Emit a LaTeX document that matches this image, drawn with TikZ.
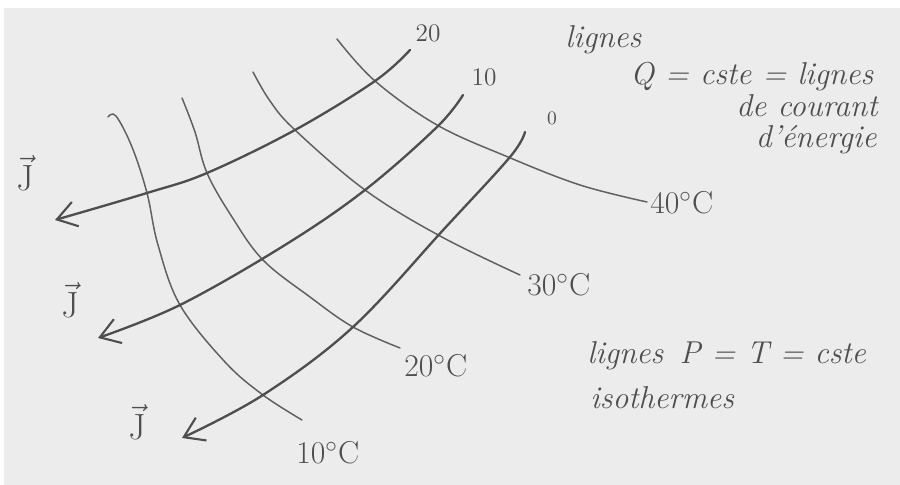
\documentclass[tikz,border=0pt]{standalone}
\usepackage{xcolor}
\usepackage{amsmath}
\usepackage{tikz}
\usetikzlibrary{arrows.meta,positioning}
\definecolor{pencil}{HTML}{4E4E4E}
\definecolor{paper}{HTML}{ECECEC}
\tikzset{
  flowline/.style={draw=pencil, line width=1.1pt, line cap=round, -{Straight Barb[length=3.2mm,width=4.2mm,line width=1pt]}},
  isotherm/.style={draw=pencil!90, line width=0.7pt, line cap=round},
  hand/.style={text=pencil, font=\fontsize{15}{18}\selectfont\itshape, inner sep=0pt},
  tag/.style={text=pencil, font=\fontsize{12}{14}\selectfont, inner sep=0pt},
  vecj/.style={text=pencil, font=\fontsize{18}{22}\selectfont, inner sep=0pt}
}

\begin{document}
\begin{tikzpicture}[x=0.0166667cm, y=-0.0166667cm]
  \useasboundingbox (0,0) rectangle (900,485);
  \fill[white] (0,0) rectangle (900,485);
  \fill[paper] (4,8) rectangle (900,485);

  \draw[isotherm] plot[smooth, tension=0.6] coordinates {(108,117) (116,116) (132,147) (147,193) (158,245) (180,305) (225,362) (263,395) (302,420)};
  \draw[isotherm] plot[smooth, tension=0.6] coordinates {(182,98) (195,132) (207,173) (232,217) (263,260) (310,297) (353,327) (400,348)};
  \draw[isotherm] plot[smooth, tension=0.6] coordinates {(253,72) (270,101) (295,130) (365,190) (440,236) (520,275)};
  \draw[isotherm] plot[smooth, tension=0.6] coordinates {(337,39) (375,81) (437,125) (508,157) (580,185) (647,202)};

  \draw[flowline] plot[smooth, tension=0.6] coordinates {(410,50) (375,81) (295,130) (207,173) (147,193) (55,220)};
  \draw[flowline] plot[smooth, tension=0.6] coordinates {(463,95) (437,127) (365,190) (285,245) (180,305) (98,338)};
  \draw[flowline] plot[smooth, tension=0.6] coordinates {(525,132) (510,157) (445,228) (353,327) (263,395) (182,438)};

  \node[tag] (q20) at (428,33) {20};
  \node[tag] (q10) at (484,77) {10};
  \node[tag, font=\fontsize{9}{11}\selectfont] (q0) at (552,118) {0};

  \node[hand, font=\fontsize{15}{18}\selectfont, anchor=west] (t40) at (650,203) {40$^\circ$C};
  \node[hand, font=\fontsize{15}{18}\selectfont, anchor=west] (t30) at (527,285) {30$^\circ$C};
  \node[hand, font=\fontsize{15}{18}\selectfont, anchor=west] (t20) at (404,366) {20$^\circ$C};
  \node[hand, font=\fontsize{15}{18}\selectfont, anchor=west] (t10) at (296,453) {10$^\circ$C};

  \node[vecj] (j1) at (25,173) {$\vec{\mathrm{J}}$};
  \node[vecj] (j2) at (70,300) {$\vec{\mathrm{J}}$};
  \node[vecj] (j3) at (137,422) {$\vec{\mathrm{J}}$};

  \node[hand, anchor=west] (qlig) at (565,40) {lignes};
  \node[hand, anchor=west] (qcst) at (630,77) {Q = cste = lignes};
  \node[hand, anchor=east] (qcour) at (878,106) {de courant};
  \node[hand, anchor=east] (qener) at (877,140) {d'énergie};

  \node[hand, anchor=west] (plig) at (587,356) {lignes\, P = T = cste};
  \node[hand, anchor=west] (piso) at (590,398) {isothermes};
\end{tikzpicture}
\end{document}
